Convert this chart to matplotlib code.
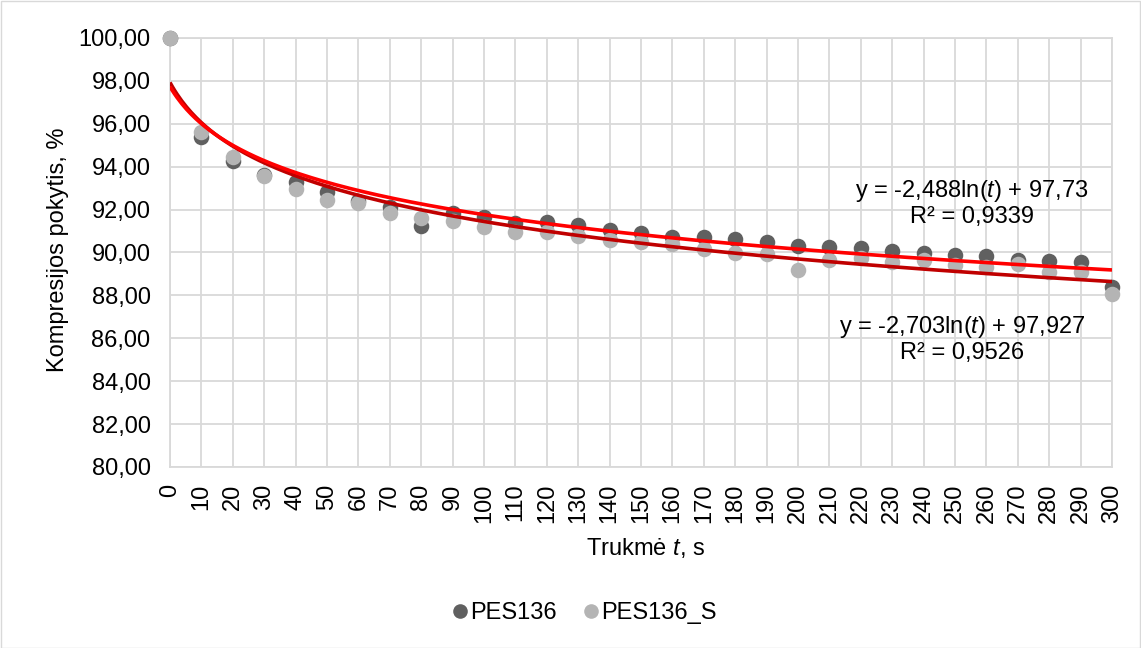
import numpy as np
import matplotlib
matplotlib.use("Agg")
import matplotlib.pyplot as plt
from matplotlib.patches import Rectangle
from matplotlib.lines import Line2D

plt.rcParams['font.family'] = ['Liberation Sans', 'DejaVu Sans']
plt.rcParams['mathtext.fontset'] = 'custom'
plt.rcParams['mathtext.rm'] = 'Liberation Sans'
plt.rcParams['mathtext.it'] = 'Liberation Sans:italic'

# Data
time_s = [0, 10, 20, 30, 40, 50, 60, 70, 80, 90, 100, 110, 120, 130, 140, 150,
          160, 170, 180, 190, 200, 210, 220, 230, 240, 250, 260, 270, 280, 290, 300]
pes136 = [100.00, 95.40, 94.25, 93.60, 93.27, 92.81, 92.40, 92.14, 91.25, 91.83,
          91.65, 91.36, 91.44, 91.28, 91.05, 90.89, 90.74, 90.71, 90.63, 90.50,
          90.32, 90.24, 90.19, 90.09, 89.96, 89.88, 89.84, 89.65, 89.60, 89.58, 88.38]
pes136_s = [100.00, 95.63, 94.47, 93.57, 92.96, 92.45, 92.30, 91.83, 91.62, 91.47,
            91.17, 90.97, 90.97, 90.77, 90.58, 90.50, 90.40, 90.16, 89.99, 89.93,
            89.18, 89.65, 89.73, 89.57, 89.65, 89.42, 89.31, 89.46, 89.11, 89.11, 88.07]
series_names = ["PES136", "PES136_S"]
# trendline coefficients (y = a*ln(t) + b, t = category index 1..31)
trend1 = (-2.488, 97.73)
trend2 = (-2.703, 97.927)
trend1_text = "y = -2,488ln($\\it{t}$) + 97,73\nR² = 0,9339"
trend2_text = "y = -2,703ln($\\it{t}$) + 97,927\nR² = 0,9526"
y_ticks = list(range(80, 101, 2))

W, H = 1141, 648
fig = plt.figure(figsize=(W / 100, H / 100), dpi=100)
ax = fig.add_axes([170 / W, 1 - 467 / H, (1112 - 170) / W, (467 - 38) / H])

dark = '#606060'
light = '#B4B4B4'
fs = 17

x = np.array(time_s, dtype=float)
ax.scatter(x, pes136, s=125, color=dark, zorder=3, linewidths=0, clip_on=False)
ax.scatter(x, pes136_s, s=125, color=light, zorder=4, linewidths=0, clip_on=False)

xx = np.linspace(0, 300, 400)
tt = xx / 10 + 1
ax.plot(xx, trend2[0] * np.log(tt) + trend2[1], color='#C00000', lw=2.6, zorder=5,
        solid_capstyle='butt')
ax.plot(xx, trend1[0] * np.log(tt) + trend1[1], color='#FF0000', lw=2.6, zorder=6,
        solid_capstyle='butt')

ax.set_xlim(0, 300)
ax.set_ylim(80, 100)
ax.set_yticks(y_ticks)
ax.set_yticklabels([f"{v:.2f}".replace('.', ',') for v in y_ticks], fontsize=fs)
ax.set_xticks(time_s)
ax.set_xticklabels([str(t) for t in time_s], rotation=90, fontsize=fs)
ax.tick_params(length=0)
ax.tick_params(axis='y', pad=14)
ax.tick_params(axis='x', pad=12)
ax.grid(True, color='#D9D9D9', lw=1.3)
ax.set_axisbelow(True)
for sp in ax.spines.values():
    sp.set_color('#D9D9D9')
    sp.set_linewidth(1.3)

fig.text(972 / W, 1 - 203 / H, trend1_text, ha='center', va='center', fontsize=fs,
         linespacing=1.12)
fig.text(962 / W, 1 - 339 / H, trend2_text, ha='center', va='center', fontsize=fs,
         linespacing=1.12)

fig.text(58 / W, 1 - 250 / H, "Kompresijos pokytis, %", rotation=90, ha='center',
         va='center', fontsize=fs)
fig.text(646 / W, 1 - 548 / H, "Trukmė $\\it{t}$, s", ha='center', va='center', fontsize=fs)

handles = [Line2D([], [], ls='none', marker='o', markersize=10.5, color=c, mew=0)
           for c in (dark, light)]
fig.legend(handles, series_names, loc='center', bbox_to_anchor=(583 / W, 1 - 613 / H), ncol=2,
           frameon=False, fontsize=fs, handletextpad=0.0, handlelength=0.9,
           columnspacing=1.0)

fig.patches.append(Rectangle((0.5 / W, 0.5 / H), 1 - 1.5 / W, 1 - 1.5 / H,
                             transform=fig.transFigure, fill=False, ec='#D9D9D9', lw=1))

fig.savefig("out.png", dpi=100)
